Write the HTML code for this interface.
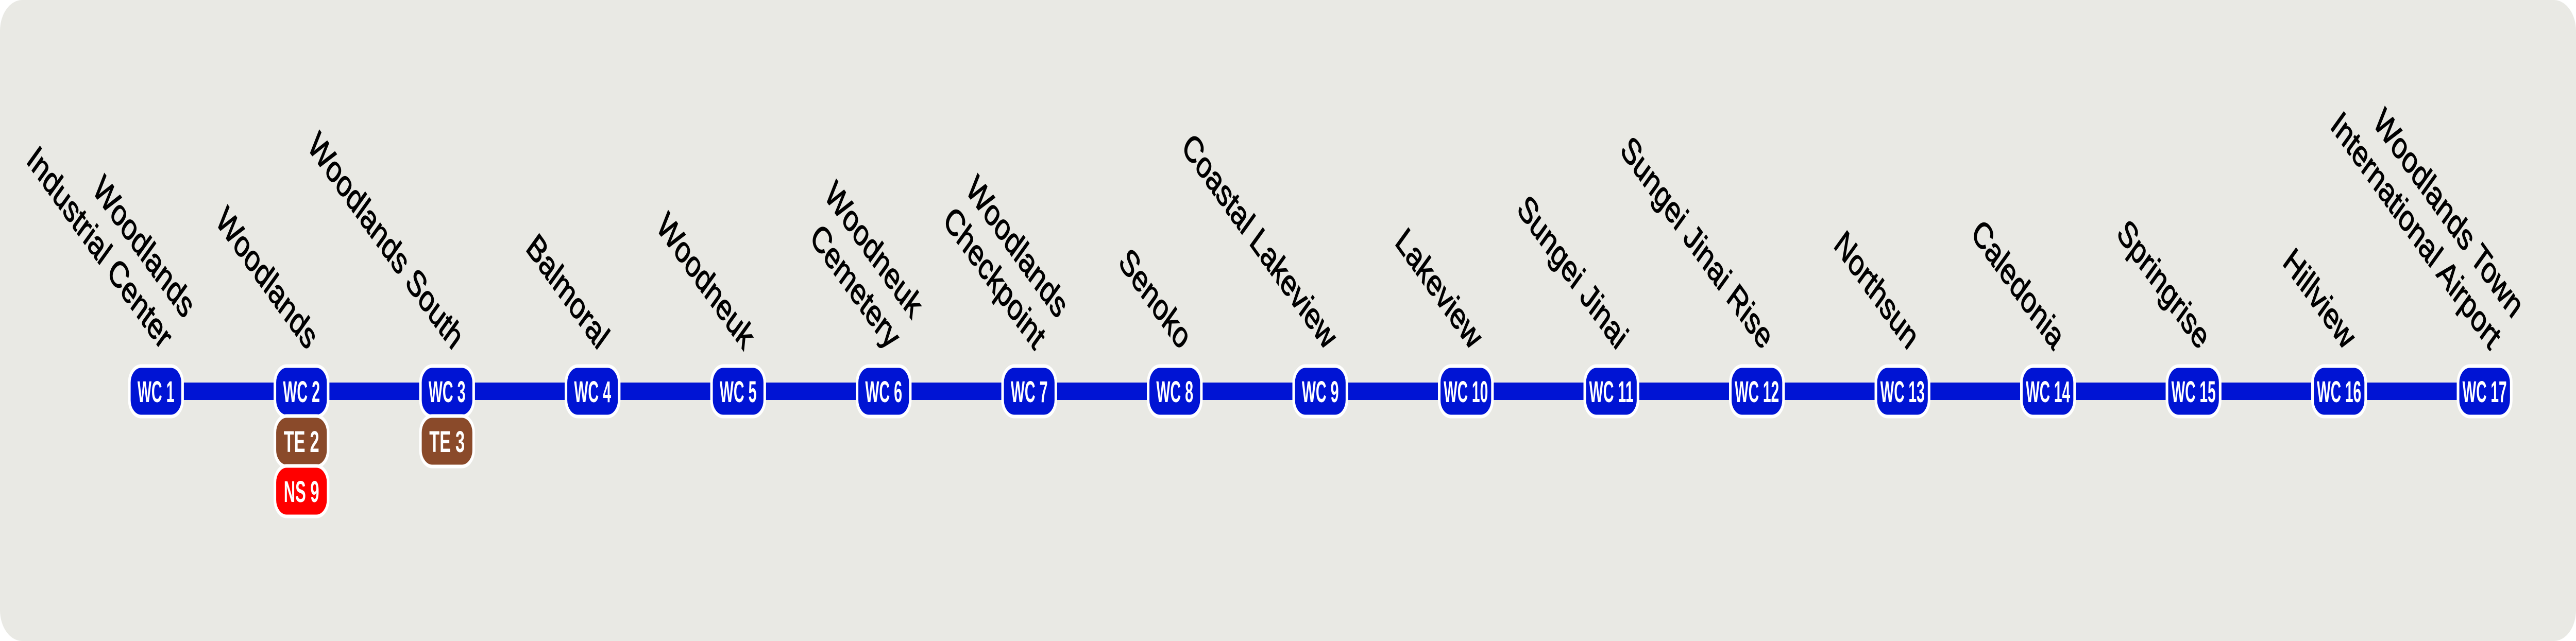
<!DOCTYPE html>
<html><head><meta charset="utf-8"><style>
html,body{margin:0;padding:0;background:#e9e9e4;width:100vw;height:100vh;overflow:hidden;}
svg{display:block;position:absolute;left:0;top:0;width:100vw;height:100vh;}
.lbl{font-family:"Liberation Sans",sans-serif;font-size:71px;fill:#000;stroke:#000;stroke-width:1.6px;}
.pt{font-family:"Liberation Sans Narrow","Liberation Sans",sans-serif;font-size:58px;font-weight:bold;fill:#fff;}
.p{stroke:#fff;stroke-width:7;}
</style></head><body>
<svg viewBox="0 0 6970 1245" preserveAspectRatio="none" xmlns="http://www.w3.org/2000/svg">
<rect x="0" y="0" width="6970" height="1245" fill="#ffffff"/>
<rect x="0" y="0" width="6970" height="1245" rx="60" fill="#e9e9e4"/>
<rect x="422" y="743" width="6301" height="34" fill="#0014d4"/>

<g fill="#0014d4" class="p">
<rect x="350" y="711" width="144" height="98" rx="32"/>
<rect x="743.8" y="711" width="144" height="98" rx="32"/>
<rect x="1137.6" y="711" width="144" height="98" rx="32"/>
<rect x="1531.4" y="711" width="144" height="98" rx="32"/>
<rect x="1925.2" y="711" width="144" height="98" rx="32"/>
<rect x="2319" y="711" width="144" height="98" rx="32"/>
<rect x="2712.8" y="711" width="144" height="98" rx="32"/>
<rect x="3106.6" y="711" width="144" height="98" rx="32"/>
<rect x="3500.4" y="711" width="144" height="98" rx="32"/>
<rect x="3894.2" y="711" width="144" height="98" rx="32"/>
<rect x="4288" y="711" width="144" height="98" rx="32"/>
<rect x="4681.8" y="711" width="144" height="98" rx="32"/>
<rect x="5075.6" y="711" width="144" height="98" rx="32"/>
<rect x="5469.4" y="711" width="144" height="98" rx="32"/>
<rect x="5863.2" y="711" width="144" height="98" rx="32"/>
<rect x="6257" y="711" width="144" height="98" rx="32"/>
<rect x="6650.8" y="711" width="144" height="98" rx="32"/>
</g>
<rect class="p" x="743.8" y="808" width="144" height="98" rx="32" fill="#8a4a2a"/>
<rect class="p" x="743.8" y="905" width="144" height="98" rx="32" fill="#ff0000"/>
<rect class="p" x="1137.6" y="808" width="144" height="98" rx="32" fill="#8a4a2a"/>

<g class="pt" text-anchor="middle">
<text x="422" y="781" textLength="100" lengthAdjust="spacingAndGlyphs">WC 1</text>
<text x="815.8" y="781" textLength="100" lengthAdjust="spacingAndGlyphs">WC 2</text>
<text x="1209.6" y="781" textLength="100" lengthAdjust="spacingAndGlyphs">WC 3</text>
<text x="1603.4" y="781" textLength="100" lengthAdjust="spacingAndGlyphs">WC 4</text>
<text x="1997.2" y="781" textLength="100" lengthAdjust="spacingAndGlyphs">WC 5</text>
<text x="2391" y="781" textLength="100" lengthAdjust="spacingAndGlyphs">WC 6</text>
<text x="2784.8" y="781" textLength="100" lengthAdjust="spacingAndGlyphs">WC 7</text>
<text x="3178.6" y="781" textLength="100" lengthAdjust="spacingAndGlyphs">WC 8</text>
<text x="3572.4" y="781" textLength="100" lengthAdjust="spacingAndGlyphs">WC 9</text>
<text x="3966.2" y="781" textLength="120" lengthAdjust="spacingAndGlyphs">WC 10</text>
<text x="4360" y="781" textLength="120" lengthAdjust="spacingAndGlyphs">WC 11</text>
<text x="4753.8" y="781" textLength="120" lengthAdjust="spacingAndGlyphs">WC 12</text>
<text x="5147.6" y="781" textLength="120" lengthAdjust="spacingAndGlyphs">WC 13</text>
<text x="5541.4" y="781" textLength="120" lengthAdjust="spacingAndGlyphs">WC 14</text>
<text x="5935.2" y="781" textLength="120" lengthAdjust="spacingAndGlyphs">WC 15</text>
<text x="6329" y="781" textLength="120" lengthAdjust="spacingAndGlyphs">WC 16</text>
<text x="6722.8" y="781" textLength="120" lengthAdjust="spacingAndGlyphs">WC 17</text>
<text x="815.8" y="878" textLength="96" lengthAdjust="spacingAndGlyphs">TE 2</text>
<text x="815.8" y="975" textLength="96" lengthAdjust="spacingAndGlyphs">NS 9</text>
<text x="1209.6" y="878" textLength="96" lengthAdjust="spacingAndGlyphs">TE 3</text>
</g>

<g class="lbl" text-anchor="end">
<g transform="translate(437,682) rotate(45)"><text x="0" y="-86">Woodlands</text><text x="0" y="0">Industrial Center</text></g>
<g transform="translate(830.8,682) rotate(45)"><text x="0" y="0">Woodlands</text></g>
<g transform="translate(1224.6,682) rotate(45)"><text x="0" y="0">Woodlands South</text></g>
<g transform="translate(1618.4,682) rotate(45)"><text x="0" y="0">Balmoral</text></g>
<g transform="translate(2012.2,682) rotate(45)"><text x="0" y="0">Woodneuk</text></g>
<g transform="translate(2406,682) rotate(45)"><text x="0" y="-86">Woodneuk</text><text x="0" y="0">Cemetery</text></g>
<g transform="translate(2799.8,682) rotate(45)"><text x="0" y="-86">Woodlands</text><text x="0" y="0">Checkpoint</text></g>
<g transform="translate(3193.6,682) rotate(45)"><text x="0" y="0">Senoko</text></g>
<g transform="translate(3587.4,682) rotate(45)"><text x="0" y="0">Coastal Lakeview</text></g>
<g transform="translate(3981.2,682) rotate(45)"><text x="0" y="0">Lakeview</text></g>
<g transform="translate(4375,682) rotate(45)"><text x="0" y="0">Sungei Jinai</text></g>
<g transform="translate(4768.8,682) rotate(45)"><text x="0" y="0">Sungei Jinai Rise</text></g>
<g transform="translate(5162.6,682) rotate(45)"><text x="0" y="0">Northsun</text></g>
<g transform="translate(5556.4,682) rotate(45)"><text x="0" y="0">Caledonia</text></g>
<g transform="translate(5950.2,682) rotate(45)"><text x="0" y="0">Springrise</text></g>
<g transform="translate(6344,682) rotate(45)"><text x="0" y="0">Hillview</text></g>
<g transform="translate(6737.8,682) rotate(45)"><text x="0" y="-86">Woodlands Town</text><text x="0" y="0">International Airport</text></g>
</g>
</svg>
</body></html>
